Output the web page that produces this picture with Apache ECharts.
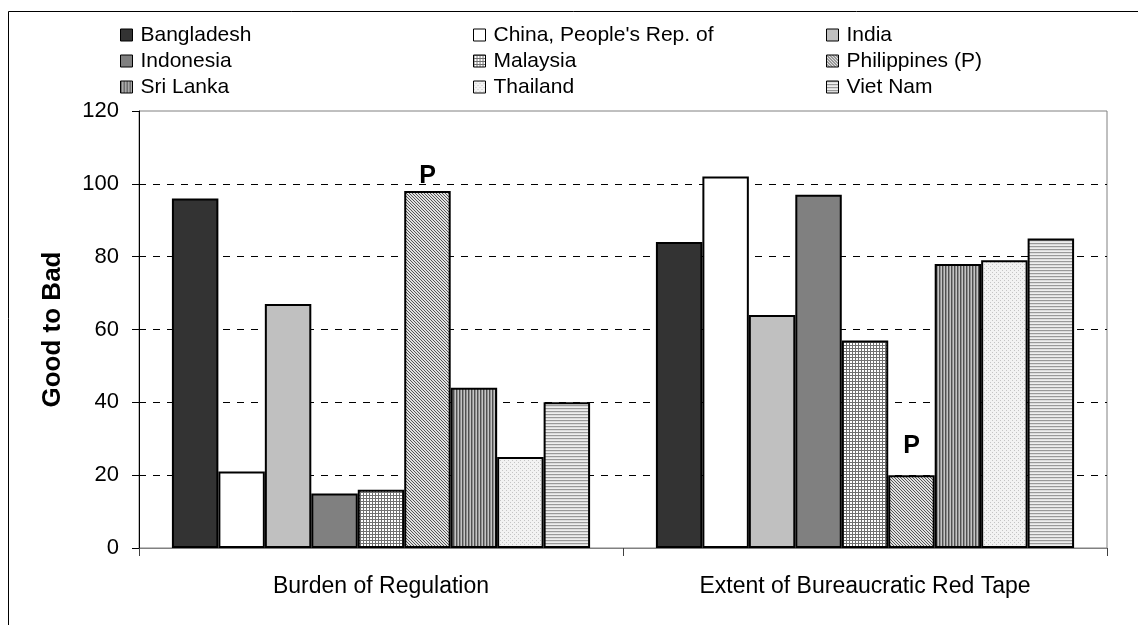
<!DOCTYPE html>
<html>
<head>
<meta charset="utf-8">
<script src="https://cdn.jsdelivr.net/npm/echarts@6/dist/echarts.min.js"></script>
<style>
html,body{margin:0;padding:0;background:#fff;}
#chart{width:1138px;height:625px;}
</style>
</head>
<body>
<div id="chart"></div>
<script>
// ---- data ----
const categories = ['Burden of Regulation', 'Extent of Bureaucratic Red Tape'];
const countries = ['Bangladesh', 'China, People\'s Rep. of', 'India', 'Indonesia', 'Malaysia', 'Philippines (P)', 'Sri Lanka', 'Thailand', 'Viet Nam'];
const bangladesh = [96, 84];
const china = [21, 102];
const india = [67, 64];
const indonesia = [15, 97];
const malaysia = [16, 57];
const philippines = [98, 20];
const sriLanka = [44, 78];
const thailand = [25, 79];
const vietNam = [40, 85];
const yTicks = [0, 20, 40, 60, 80, 100, 120];
const yAxisName = 'Good to Bad';
const markLabel = 'P';

// ---- patterns ----
function pat(w, h, draw) {
  const c = document.createElement('canvas');
  c.width = w; c.height = h;
  const ctx = c.getContext('2d');
  draw(ctx);
  return { image: c, repeat: 'repeat' };
}
const fills = [
  '#333333',
  '#ffffff',
  '#c0c0c0',
  '#808080',
  pat(3, 3, ctx => { ctx.fillStyle = '#ffffff'; ctx.fillRect(0,0,3,3); ctx.fillStyle = '#707070'; ctx.fillRect(0,0,3,1); ctx.fillRect(0,0,1,3); }),
  pat(3, 3, ctx => { ctx.fillStyle = '#e0e0e0'; ctx.fillRect(0,0,3,3); ctx.fillStyle = '#555555'; for (let i=0;i<3;i++) ctx.fillRect(i,i,1,1); }),
  pat(3, 1, ctx => { ctx.fillStyle = '#505050'; ctx.fillRect(0,0,1,1); ctx.fillStyle = '#909090'; ctx.fillRect(1,0,1,1); ctx.fillStyle = '#c4c4c4'; ctx.fillRect(2,0,1,1); }),
  pat(4, 4, ctx => { ctx.fillStyle = '#f2f2f2'; ctx.fillRect(0,0,4,4); ctx.fillStyle = '#c4c4c4'; ctx.fillRect(0,0,1,1); ctx.fillRect(2,2,1,1); }),
  pat(1, 3, ctx => { ctx.fillStyle = '#999999'; ctx.fillRect(0,0,1,1); ctx.fillStyle = '#dcdcdc'; ctx.fillRect(0,1,1,1); ctx.fillStyle = '#eeeeee'; ctx.fillRect(0,2,1,1); })
];
const values = [bangladesh, china, india, indonesia, malaysia, philippines, sriLanka, thailand, vietNam];

const FONT = 'Liberation Sans';
const series = countries.map((name, i) => {
  let data = values[i].slice();
  if (i === 5) {
    data = data.map((v, k) => ({
      value: v,
      label: {
        show: true, formatter: markLabel, position: 'top',
        distance: k === 0 ? 3 : 17,
        fontFamily: FONT, fontWeight: 'bold', fontSize: 25, color: '#000'
      }
    }));
  }
  return {
    name, type: 'bar', data,
    barGap: '0%', barCategoryGap: '13.6%',
    itemStyle: { color: fills[i], borderColor: '#000', borderWidth: 2 },
    emphasis: { disabled: true },
    animation: false
  };
});

function legendCol(left, names) {
  return {
    orient: 'vertical', left, top: 24, padding: 0,
    itemWidth: 12, itemHeight: 12, itemGap: 4,
    icon: 'rect',
    data: names,
    itemStyle: { borderColor: '#000', borderWidth: 1 },
    textStyle: { fontFamily: FONT, fontSize: 21, color: '#000', lineHeight: 22, padding: [0,0,0,3] },
    selectedMode: false
  };
}

const chart = echarts.init(document.getElementById('chart'), null, { renderer: 'canvas' });
chart.setOption({
  animation: false,
  backgroundColor: '#fff',
  legend: [
    legendCol(120, [countries[0], countries[3], countries[6]]),
    legendCol(473, [countries[1], countries[4], countries[7]]),
    legendCol(826, [countries[2], countries[5], countries[8]])
  ],
  grid: { left: 139, top: 111, width: 968, height: 437, show: true, borderColor: '#808080', borderWidth: 1, backgroundColor: 'transparent' },
  xAxis: {
    type: 'category', data: categories,
    axisLine: { lineStyle: { color: '#808080', width: 1 } },
    axisTick: { show: true, length: 8, lineStyle: { color: '#404040' } },
    axisLabel: { fontFamily: FONT, fontSize: 23, color: '#000', margin: 27 },
    splitLine: { show: false }
  },
  yAxis: {
    type: 'value', min: yTicks[0], max: yTicks[yTicks.length - 1], interval: 20,
    name: yAxisName, nameLocation: 'middle', nameGap: 73, nameRotate: 90,
    nameTextStyle: { fontFamily: FONT, fontWeight: 'bold', fontSize: 26, color: '#000' },
    axisLine: { show: true, lineStyle: { color: '#000', width: 1 } },
    axisTick: { show: true, length: 7, lineStyle: { color: '#000' } },
    axisLabel: { fontFamily: FONT, fontSize: 22, color: '#000', margin: 20 },
    splitLine: { show: true, showMinLine: false, showMaxLine: false, lineStyle: { color: '#000', width: 1, type: [7, 7] } }
  },
  graphic: [{
    type: 'rect', shape: { x: 8.5, y: 11.5, width: 1400, height: 900 },
    style: { fill: 'none', stroke: '#000', lineWidth: 1 }, silent: true, z: 100
  }],
  series
});
</script>
</body>
</html>
